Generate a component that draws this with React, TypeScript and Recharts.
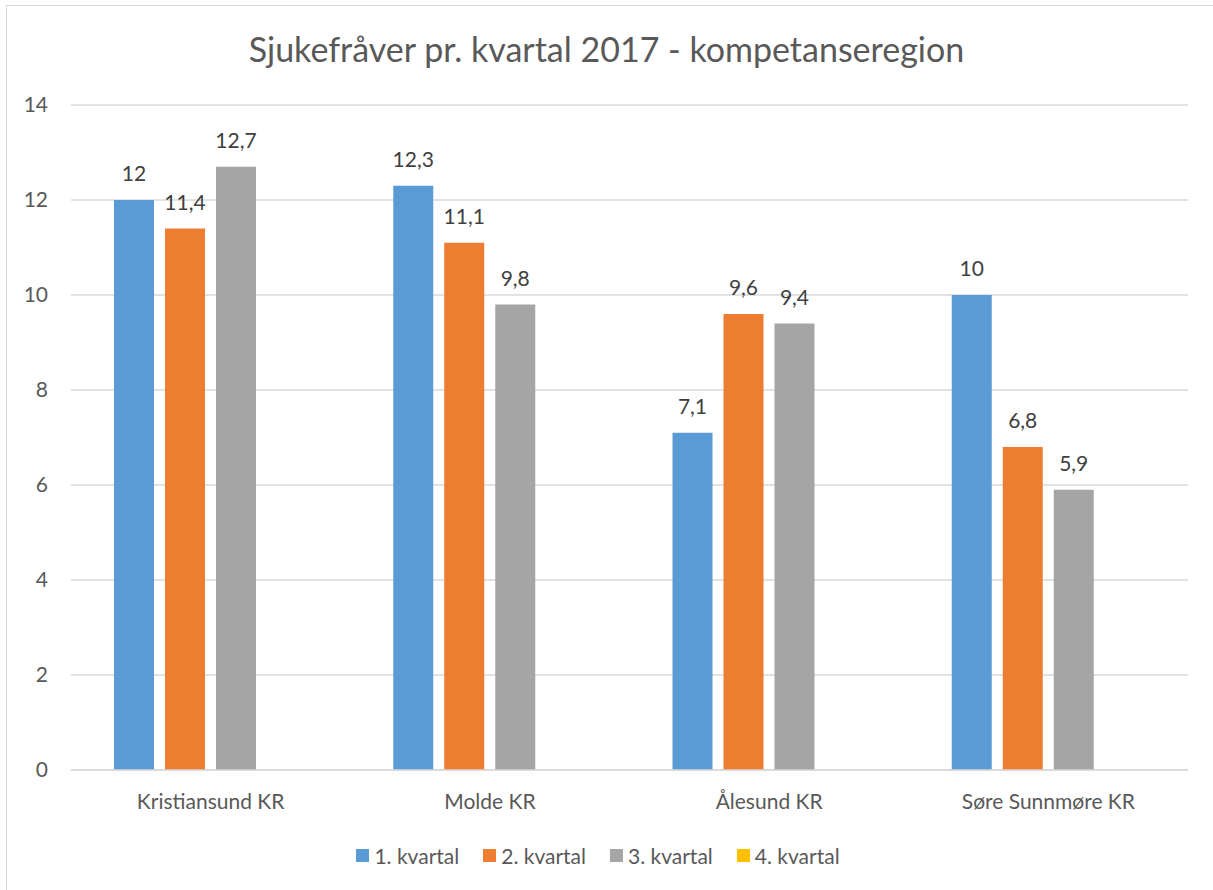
import { BarChart, Bar, XAxis, YAxis, CartesianGrid, Legend, LabelList } from 'recharts'

const regions = ['Kristiansund KR', 'Molde KR', 'Ålesund KR', 'Søre Sunnmøre KR']
const q1 = [12, 12.3, 7.1, 10]
const q2 = [11.4, 11.1, 9.6, 6.8]
const q3 = [12.7, 9.8, 9.4, 5.9]
const q4: (number | null)[] = [null, null, null, null]
const yTicks = [0, 2, 4, 6, 8, 10, 12, 14]

const series = [
  { key: 'q1', name: '1. kvartal', color: '#5b9bd5' },
  { key: 'q2', name: '2. kvartal', color: '#ed7d31' },
  { key: 'q3', name: '3. kvartal', color: '#a5a5a5' },
  { key: 'q4', name: '4. kvartal', color: '#ffc000' },
]

const data = regions.map((r, i) => ({ region: r, q1: q1[i], q2: q2[i], q3: q3[i], q4: q4[i] }))

const FONT = 'Lato, "Open Sans", sans-serif'
const fmt = (v: any) => (v == null ? '' : String(v).replace('.', ','))

function LegendBox() {
  return (
    <div style={{ display: 'flex', justifyContent: 'center', gap: 24, fontFamily: FONT, fontSize: 21, color: '#595959', marginLeft: 8 }}>
      {series.map((s) => (
        <div key={s.key} style={{ display: 'flex', alignItems: 'center' }}>
          <span style={{ width: 13, height: 13, background: s.color, display: 'inline-block', marginRight: 5 }} />
          {s.name}
        </div>
      ))}
    </div>
  )
}

export default function App() {
  return (
    <div style={{ position: 'absolute', left: 0, top: 0, width: 1213, height: 890, background: '#fff', overflow: 'hidden' }}>
      <div style={{ position: 'absolute', left: 6, top: 5, width: 1240, height: 920, border: '1.5px solid #d9d9d9' }} />
      <div
        style={{
          position: 'absolute', left: 0, top: 28, width: 1213, textAlign: 'center',
          fontFamily: FONT, fontSize: 34, color: '#595959',
        }}
      >
        Sjukefråver pr. kvartal 2017 - kompetanseregion
      </div>
      <div style={{ position: 'absolute', left: 0, top: 0 }}>
        <BarChart
          width={1213}
          height={890}
          data={data}
          margin={{ top: 105, right: 25, bottom: 22, left: 0 }}
          barCategoryGap={43}
          barGap={11}
        >
          <CartesianGrid vertical={false} stroke="#d9d9d9" strokeWidth={1.5} />
          <XAxis
            dataKey="region"
            axisLine={{ stroke: '#d9d9d9', strokeWidth: 1.5 }}
            tickLine={false}
            tickSize={0}
            tickMargin={24}
            height={73}
            tick={{ fill: '#595959', fontSize: 21, fontFamily: FONT }}
          />
          <YAxis
            domain={[0, 14]}
            ticks={yTicks}
            axisLine={false}
            tickLine={false}
            tickSize={0}
            tickMargin={23}
            width={71}
            tick={{ fill: '#595959', fontSize: 21, fontFamily: FONT }}
          />
          <Legend verticalAlign="bottom" content={<LegendBox />} />
          {series.map((s) => (
            <Bar key={s.key} dataKey={s.key} name={s.name} fill={s.color} isAnimationActive={false}>
              <LabelList
                dataKey={s.key}
                position="top"
                offset={19}
                formatter={fmt}
                style={{ fill: '#404040', fontSize: 21, fontFamily: FONT }}
              />
            </Bar>
          ))}
        </BarChart>
      </div>
    </div>
  )
}
